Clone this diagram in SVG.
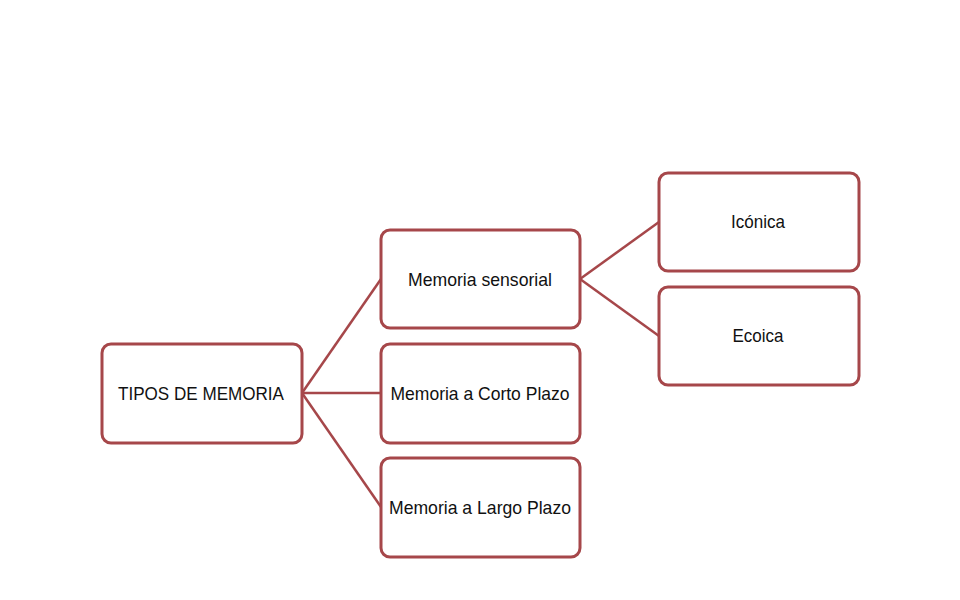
<svg xmlns="http://www.w3.org/2000/svg" width="960" height="600" viewBox="0 0 960 600">
<style>
.box{fill:#fff;stroke:#A6474A;stroke-width:3}
.con{fill:none;stroke:#A6474A;stroke-width:2.5}
.t{font-family:"Liberation Sans",Arial,sans-serif;font-size:18.5px;fill:#111;text-anchor:middle}
</style>
<rect width="960" height="600" fill="#fff"/>
<g id="connectors">
<line class="con" x1="302" y1="393" x2="381" y2="279"/>
<line class="con" x1="302" y1="393" x2="381" y2="393"/>
<line class="con" x1="302" y1="393" x2="381" y2="507"/>
<line class="con" x1="580" y1="279" x2="659" y2="222"/>
<line class="con" x1="580" y1="279" x2="659" y2="336"/>
</g>
<g id="root">
<rect class="box" x="102" y="344" width="200" height="99" rx="9"/>
<text class="t" x="201" y="400" textLength="166" lengthAdjust="spacingAndGlyphs">TIPOS DE MEMORIA</text>
</g>
<g id="sensorial">
<rect class="box" x="381" y="230" width="199" height="98" rx="9"/>
<text class="t" x="480" y="286" textLength="144" lengthAdjust="spacingAndGlyphs">Memoria sensorial</text>
</g>
<g id="corto">
<rect class="box" x="381" y="344" width="199" height="99" rx="9"/>
<text class="t" x="480" y="400" textLength="179" lengthAdjust="spacingAndGlyphs">Memoria a Corto Plazo</text>
</g>
<g id="largo">
<rect class="box" x="381" y="458" width="199" height="99" rx="9"/>
<text class="t" x="480" y="514" textLength="182" lengthAdjust="spacingAndGlyphs">Memoria a Largo Plazo</text>
</g>
<g id="iconica">
<rect class="box" x="659" y="173" width="200" height="98" rx="9"/>
<text class="t" x="758" y="228" textLength="54" lengthAdjust="spacingAndGlyphs">Icónica</text>
</g>
<g id="ecoica">
<rect class="box" x="659" y="287" width="200" height="98" rx="9"/>
<text class="t" x="758" y="342" textLength="51" lengthAdjust="spacingAndGlyphs">Ecoica</text>
</g>
</svg>
